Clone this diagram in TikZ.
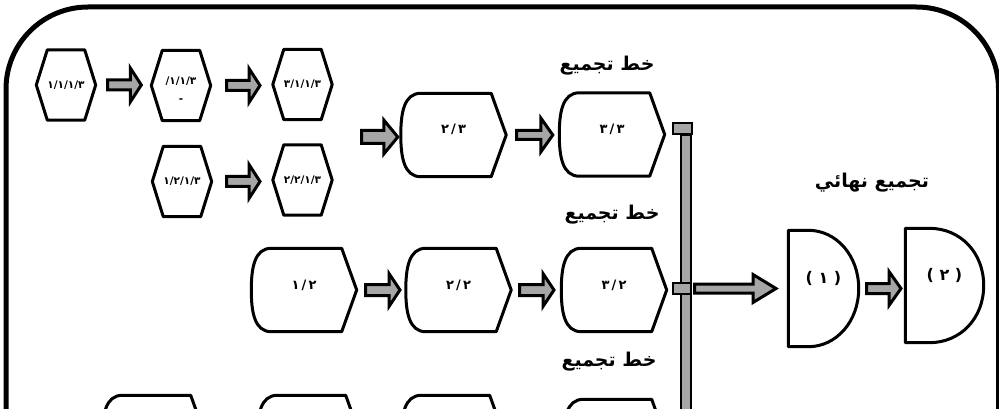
\documentclass[tikz,border=0pt]{standalone}
\usepackage{fontspec}
\newfontfamily\arfont[Script=Arabic]{DejaVu Sans}
\newfontfamily\dgfont{DejaVu Sans}
\TeXXeTstate=1
\usetikzlibrary{calc}
\definecolor{bargray}{RGB}{166,166,166}
\newcommand\up[2]{\raisebox{#1}[0pt][0pt]{#2}}
\newcommand\blockarr[5]{\draw[barrowst] let \p1=#1, \p2=#2 in
  (\x1,\y1-#3) -- (\x2-#5,\y1-#3) -- (\x2-#5,\y1-#4) -- (\x2,\y1) --
  (\x2-#5,\y1+#4) -- (\x2-#5,\y1+#3) -- (\x1,\y1+#3) -- cycle;}
\tikzset{
  frame/.style={draw=black, line width=5pt, rounded corners=82pt},
  outl/.style={draw=black, line width=3pt, line join=round},
  barrowst/.style={draw=black, line width=3pt, fill=bargray, line join=miter},
  barst/.style={draw=black, line width=2pt, fill=bargray},
  capst/.style={draw=black, line width=2pt, fill=bargray, inner sep=0pt},
  hexa/.style={inner sep=0pt, minimum width=59pt, minimum height=70pt,
    font=\dgfont\bfseries\fontsize{10.5}{11}\selectfont},
  dispb/.style={inner sep=0pt, minimum width=105pt, minimum height=83pt,
    font=\dgfont\bfseries\fontsize{13}{15}\selectfont},
  dshp/.style={inner sep=0pt, font=\dgfont\bfseries\fontsize{16}{18}\selectfont},
  lbl/.style={inner sep=0pt, font=\arfont\bfseries\fontsize{19}{22}\selectfont},
}
\begin{document}
\begin{tikzpicture}[x=1pt,y=-1pt]
\useasboundingbox (0,0) rectangle (999,409);
\clip (0,0) rectangle (999,409);
\draw[frame] (6,7) rectangle (998.5,560);

% top hexagons
\node[hexa] (h1) at (66,85) {١/١/١/٣};
\node[hexa] (h2) at (181,85.5) {\up{-17.5pt}{\begin{tabular}[b]{@{}c@{}}/١/١/٣\\[7pt]-\end{tabular}}};
\node[hexa] (h3) at (302.5,84.5) {٣/١/١/٣};
\node[hexa] (h4) at (182,181.5) {١/٢/١/٣};
\node[hexa] (h5) at (302.5,180) {٢/٢/١/٣};
\foreach \n in {h1,h2,h3,h4,h5}
  \draw[outl] (\n.west) -- ([xshift=11pt]\n.north west) -- ([xshift=-11pt]\n.north east)
    -- (\n.east) -- ([xshift=-11pt]\n.south east) -- ([xshift=11pt]\n.south west) -- cycle;

% display shapes
\node[dispb] (a1) at (453.5,135) {\up{1pt}{٢\,/\,٣}};
\node[dispb] (a2) at (612,134.5) {\up{1pt}{٣\,/\,٣}};
\node[dispb] (b1) at (304,290) {\up{1pt}{١\,/\,٢}};
\node[dispb] (b2) at (458.5,290) {\up{1pt}{٢\,/\,٢}};
\node[dispb] (b3) at (614,290) {\up{1pt}{٣\,/\,٢}};
\node[dispb, minimum width=103pt] (c1) at (154,437) {};
\node[dispb, minimum width=103pt] (c2) at (309,437) {};
\node[dispb, minimum width=103pt] (c3) at (453,437) {};
\node[dispb, minimum width=103pt] (c4) at (615,441) {};
\foreach \n in {a1,a2,b1,b2,b3,c1,c2,c3,c4}
  \draw[outl] (\n.east) -- ([xshift=-15pt]\n.north east) -- ([xshift=20pt]\n.north west)
    .. controls ([xshift=3pt]\n.north west) and ([yshift=-20pt]\n.north west) .. (\n.west)
    .. controls ([yshift=20pt]\n.south west) and ([xshift=3pt]\n.south west) .. ([xshift=20pt]\n.south west)
    -- ([xshift=-15pt]\n.south east) -- cycle;

% final D shapes
\node[dshp, minimum width=70pt, minimum height=116pt] (d1) at (823.5,288.5) {\up{5pt}{( ١ )}};
\node[dshp, minimum width=78pt, minimum height=114pt] (d2) at (944.5,285.5) {\up{5pt}{( ٢ )}};
\foreach \n/\r/\c in {d1/20/48,d2/24/55}
  \draw[outl] (\n.north west) -- ([xshift=\r pt]\n.north west)
    .. controls ([xshift=\c pt]\n.north west) and ([yshift=33pt]\n.east) .. (\n.east)
    .. controls ([yshift=-33pt]\n.east) and ([xshift=\c pt]\n.south west) .. ([xshift=\r pt]\n.south west)
    -- (\n.south west) -- cycle;

% labels
\node[lbl] (l1) at (607,66) {\beginR خط تجميع\endR};
\node[lbl] (l2) at (612,215) {\beginR خط تجميع\endR};
\node[lbl] (l3) at (609,362) {\beginR خط تجميع\endR};
\node[lbl] (lf) at (872,183) {\beginR تجميع نهائي\endR};

% collecting bar
\coordinate (bartop) at (686,135);
\coordinate (barbot) at (686,560);
\draw[barst] ([xshift=-5pt]bartop) rectangle ([xshift=5pt]barbot);
\node[capst, minimum width=19pt, minimum height=11pt] (cap) at (682.5,128.5) {};
\node[capst, minimum width=18pt, minimum height=11pt] (jn) at (682,288.5) {};

% block arrows
\coordinate (s0) at (361.5,137);
\blockarr{([xshift=12pt]h1.east)}{([xshift=-10pt]h2.west)}{5pt}{17pt}{11pt}
\blockarr{([xshift=16pt]h2.east)}{([xshift=-12.8pt]h3.west)}{5pt}{17pt}{11pt}
\blockarr{([xshift=15pt]h4.east)}{([xshift=-12.8pt]h5.west)}{5pt}{17pt}{11pt}
\blockarr{(s0)}{([xshift=-3pt]a1.west)}{6.5pt}{17pt}{14pt}
\blockarr{([xshift=10.5pt]a1.east)}{([xshift=-6.5pt]a2.west)}{4.5pt}{17pt}{12pt}
\blockarr{([xshift=9pt]b1.east)}{([xshift=-5.8pt]b2.west)}{5.5pt}{16.5pt}{11pt}
\blockarr{([xshift=8.5pt]b2.east)}{([xshift=-7.3pt]b3.west)}{5.5pt}{16.5pt}{11pt}
\blockarr{([xshift=2.5pt]jn.east)}{([xshift=-12.3pt]d1.west)}{4.5pt}{14pt}{23pt}
\blockarr{([xshift=8pt]d1.east)}{([xshift=-4.3pt]d2.west)}{5pt}{17pt}{12pt}
\end{tikzpicture}
\end{document}
